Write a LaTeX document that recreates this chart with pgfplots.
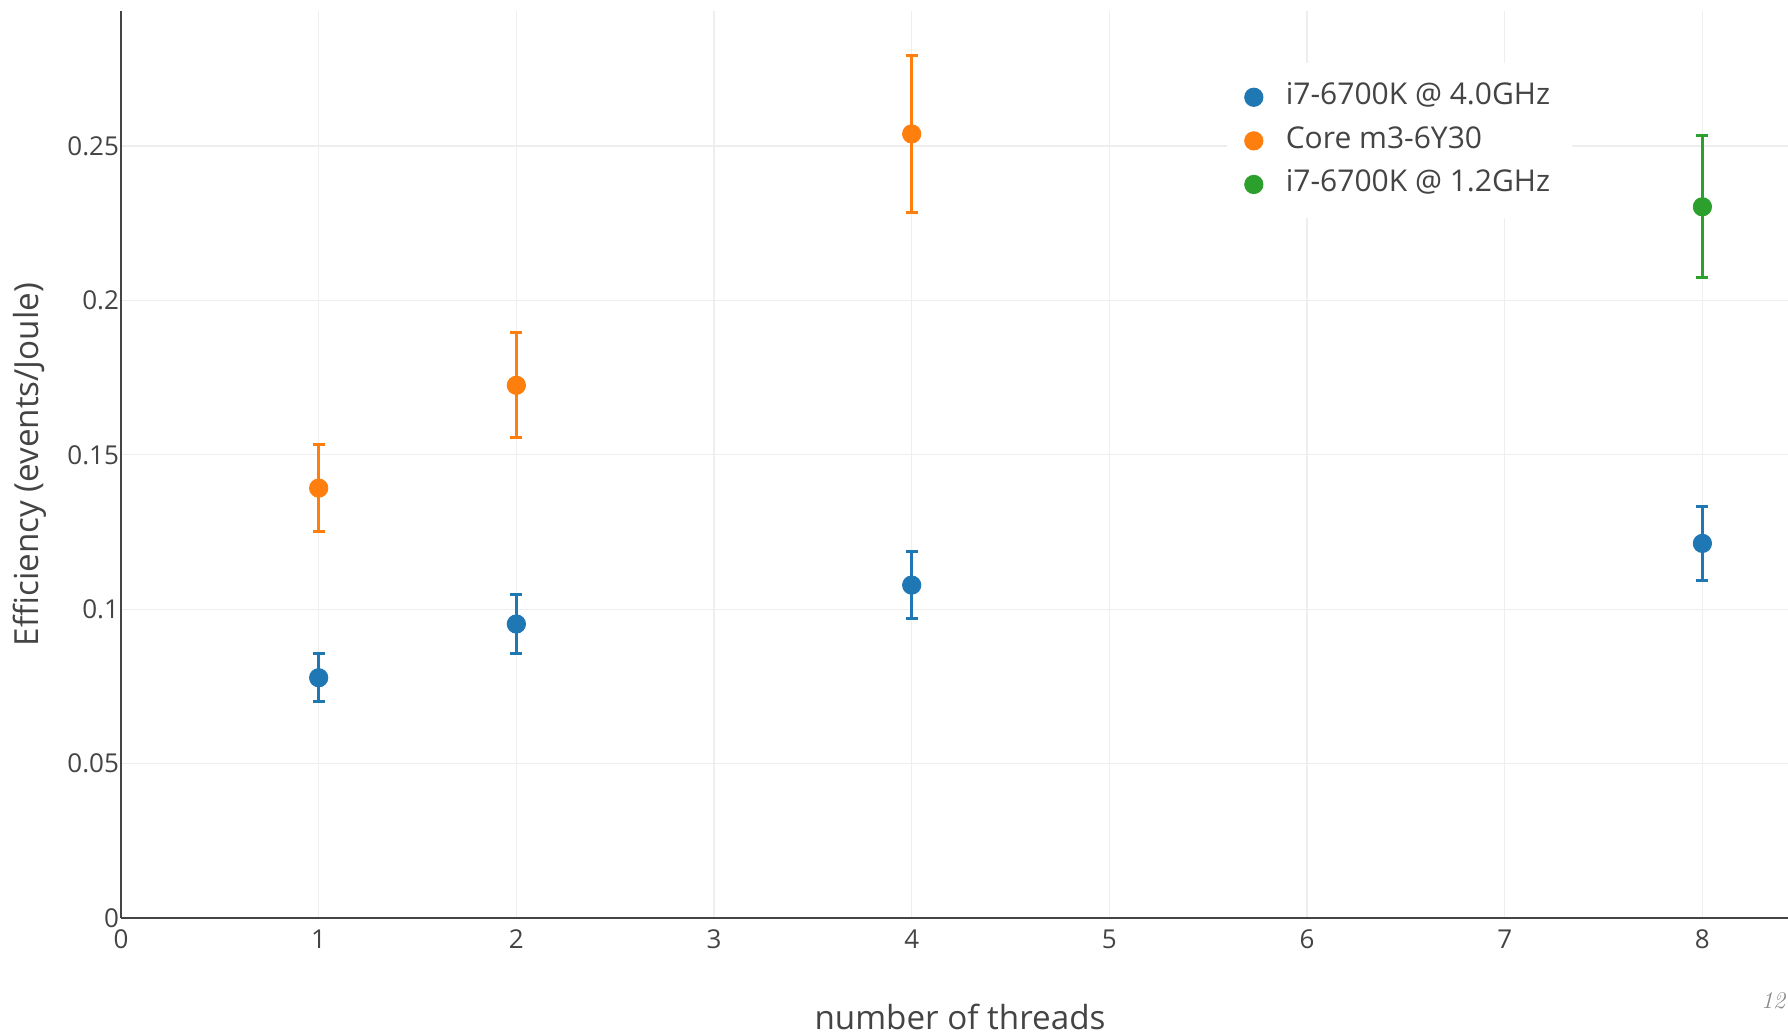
\documentclass[border=0pt]{standalone}
\usepackage{fontspec}
\setsansfont{Open Sans}
\usepackage{pgfplots}
\pgfplotsset{compat=1.18}
\definecolor{cblue}{HTML}{1F77B4}
\definecolor{corange}{HTML}{FF7F0E}
\definecolor{cgreen}{HTML}{2CA02C}
\definecolor{txt}{HTML}{444444}
\definecolor{gridc}{HTML}{EEEEEE}
\definecolor{pgnum}{HTML}{888888}
\begin{document}
\begin{tikzpicture}
\begin{axis}[
  scale only axis, width=833.5pt, height=453.5pt,
  xmin=0, xmax=8.433, ymin=0, ymax=0.2937,
  clip=false,
  axis x line=bottom, axis y line=left,
  axis line style={-, draw=txt, line width=1pt},
  xtick={0,1,2,3,4,5,6,7,8},
  xticklabels={0,1,2,3,4,5,6,7,8},
  ytick={0,0.05,0.1,0.15,0.2,0.25},
  yticklabels={0,0.05,0.1,0.15,0.2,0.25},
  major tick length=0pt,
  grid=major, major grid style={draw=gridc, line width=0.6pt},
  tick label style={font=\fontsize{13}{15}\sffamily, text=txt},
  xticklabel style={yshift=-2.5pt},
  yticklabel style={xshift=2.5pt},
  every axis y label/.style={at={(axis description cs:-0.0546,0.5)}, rotate=90, anchor=center},
  every axis x label/.style={at={(axis description cs:0.5033,-0.1092)}, anchor=center},
  label style={font=\fontsize{16.6}{19}\sffamily, text=txt},
  xlabel={number of threads},
  ylabel={Efficiency (events/Joule)},
  legend style={at={(axis description cs:0.663,0.9427)}, anchor=north west,
    draw=none, fill=white, font=\fontsize{15}{18}\sffamily, text=txt,
    inner xsep=9pt, inner ysep=7.7pt, row sep=3.3pt, column sep=9.4pt,
    nodes={text height=11pt, text depth=3.5pt}},
  legend cell align=left,
]
\addplot[only marks, mark=*, mark size=4.6pt, draw=cblue, fill=cblue, mark options={draw=cblue, fill=cblue},
  error bars/.cd, y dir=both, y explicit,
  error bar style={line width=1.5pt, draw=cblue},
  error mark options={rotate=90, line width=1.5pt, mark size=3pt, draw=cblue}]
  coordinates {(1,0.0778) +- (0,0.0078) (2,0.0952) +- (0,0.0096) (4,0.1078) +- (0,0.0109) (8,0.1213) +- (0,0.0121)};
\addlegendentry{i7-6700K @ 4.0GHz}
\addplot[only marks, mark=*, mark size=4.6pt, draw=corange, fill=corange, mark options={draw=corange, fill=corange},
  error bars/.cd, y dir=both, y explicit,
  error bar style={line width=1.5pt, draw=corange},
  error mark options={rotate=90, line width=1.5pt, mark size=3pt, draw=corange}]
  coordinates {(1,0.1392) +- (0,0.0140) (2,0.1725) +- (0,0.0170) (4,0.2539) +- (0,0.0255)};
\addlegendentry{Core m3-6Y30}
\addplot[only marks, mark=*, mark size=4.6pt, draw=cgreen, fill=cgreen, mark options={draw=cgreen, fill=cgreen},
  error bars/.cd, y dir=both, y explicit,
  error bar style={line width=1.5pt, draw=cgreen},
  error mark options={rotate=90, line width=1.5pt, mark size=3pt, draw=cgreen}]
  coordinates {(8,0.2303) +- (0,0.0230)};
\addlegendentry{i7-6700K @ 1.2GHz}
\node[font=\fontsize{12}{14}\selectfont\itshape, text=pgnum] at (axis description cs:0.991,-0.091) {12};
\end{axis}
\pgfresetboundingbox
\path[use as bounding box] (-60.5pt,-58pt) rectangle (833.5pt,459pt);
\end{tikzpicture}
\end{document}
